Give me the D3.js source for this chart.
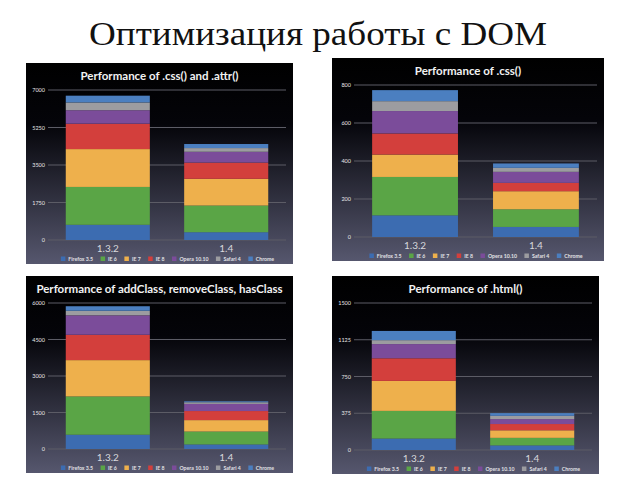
<!DOCTYPE html>
<html><head><meta charset="utf-8">
<script src="https://cdn.jsdelivr.net/npm/d3@7"></script>
<style>html,body{margin:0;padding:0;background:#fff;}svg{display:block;}</style>
</head><body>
<svg id="chart" width="640" height="480"></svg>
<script>
const versions = ["1.3.2", "1.4"];
const browsers = ["Firefox 3.5", "IE 6", "IE 7", "IE 8", "Opera 10.10", "Safari 4", "Chrome"];
const browserColors = ["#3c6cb1", "#5aa546", "#eeb04c", "#d33f3c", "#7b4c9a", "#9c9ca0", "#4b7fc0"];

const cssAttr132 = [710, 1766, 1767, 1183, 631, 363, 315];
const cssAttr14  = [363, 1246, 1246, 757, 505, 173, 189];
const css132 = [114, 202, 118, 111, 118, 52, 58];
const css14  = [53, 93, 95, 44, 58, 21, 23];
const classes132 = [587, 1573, 1493, 1040, 800, 187, 187];
const classes14  = [187, 533, 467, 373, 293, 67, 40];
const html132 = [117, 282, 306, 231, 145, 40, 94];
const html14  = [47, 77, 77, 64, 50, 34, 27];

const ticksCssAttr = [0, 1750, 3500, 5250, 7000];
const ticksCss = [0, 200, 400, 600, 800];
const ticksClasses = [0, 1500, 3000, 4500, 6000];
const ticksHtml = [0, 375, 750, 1125, 1500];

const pageTitle = "Оптимизация работы с DOM";
const chartTitles = ["Performance of .css() and .attr()", "Performance of .css()",
                     "Performance of addClass, removeClass, hasClass", "Performance of .html()"];

const svg = d3.select("#chart");
const defs = svg.append("defs");
const grad = defs.append("linearGradient").attr("id", "bg").attr("x1", 0).attr("y1", 0).attr("x2", 0).attr("y2", 1);
grad.append("stop").attr("offset", "0%").attr("stop-color", "#000000");
grad.append("stop").attr("offset", "30%").attr("stop-color", "#040409");
grad.append("stop").attr("offset", "100%").attr("stop-color", "#56576e");

svg.append("text").attr("x", 318).attr("y", 45).attr("text-anchor", "middle")
  .attr("font-family", "Liberation Serif, serif").attr("font-size", 34).attr("fill", "#111")
  .attr("textLength", 458).attr("lengthAdjust", "spacingAndGlyphs")
  .text(pageTitle);

const panels = [
  {box: [26, 63, 267, 201], title: chartTitles[0], ticks: ticksCssAttr, a: cssAttr132, b: cssAttr14},
  {box: [332, 58, 272, 203], title: chartTitles[1], ticks: ticksCss, a: css132, b: css14},
  {box: [26, 276, 267, 197], title: chartTitles[2], ticks: ticksClasses, a: classes132, b: classes14},
  {box: [332, 276, 267, 198], title: chartTitles[3], ticks: ticksHtml, a: html132, b: html14}
];

panels.forEach(p => {
  const [px, py, pw, ph] = p.box;
  const g = svg.append("g").attr("transform", `translate(${px},${py})`);
  g.append("rect").attr("width", pw).attr("height", ph).attr("fill", "url(#bg)");
  g.append("text").attr("x", pw / 2).attr("y", 17).attr("text-anchor", "middle")
    .attr("font-family", "Lato, sans-serif").attr("font-weight", 700).attr("font-size", 11.5)
    .attr("fill", "#f2f2f2").text(p.title);

  const y = d3.scaleLinear().domain([0, d3.max(p.ticks)]).range([ph - 24, 27]);
  const x = d3.scaleBand().domain(versions).range([22, pw - 7]).paddingInner(0.29).paddingOuter(0.15);

  g.selectAll("line.grid").data(p.ticks).join("line").attr("class", "grid")
    .attr("x1", 22).attr("x2", pw - 7).attr("y1", d => y(d)).attr("y2", d => y(d))
    .attr("stroke", "#5c5c66").attr("stroke-width", 1);
  g.selectAll("text.tick").data(p.ticks).join("text").attr("class", "tick")
    .attr("x", 19).attr("y", d => y(d) + 2).attr("text-anchor", "end")
    .attr("font-family", "Lato, sans-serif").attr("font-size", 5.5).attr("fill", "#e8e8e8")
    .text(d => d);

  const rows = [p.a, p.b].map((vals, i) => {
    const o = {version: versions[i]};
    browsers.forEach((bn, j) => o[bn] = vals[j]);
    return o;
  });
  const stack = d3.stack().keys(browsers)(rows);
  g.selectAll("g.series").data(stack).join("g").attr("class", "series")
    .attr("fill", (d, i) => browserColors[i])
    .selectAll("rect").data(d => d).join("rect")
    .attr("x", d => x(d.data.version)).attr("width", x.bandwidth())
    .attr("y", d => y(d[1])).attr("height", d => y(d[0]) - y(d[1]));

  g.selectAll("text.cat").data(versions).join("text").attr("class", "cat")
    .attr("x", d => x(d) + x.bandwidth() / 2).attr("y", ph - 12).attr("text-anchor", "middle")
    .attr("font-family", "Lato, sans-serif").attr("font-size", 10).attr("fill", "#d8d8dc")
    .text(d => d);

  const lg = g.append("g");
  let cx = 0;
  browsers.forEach((bn, i) => {
    lg.append("rect").attr("x", cx).attr("y", -2.5).attr("width", 4.5).attr("height", 4.5).attr("fill", browserColors[i]);
    const t = lg.append("text").attr("x", cx + 7.5).attr("y", 1.8)
      .attr("font-family", "Lato, sans-serif").attr("font-weight", 700).attr("font-size", 5.2).attr("fill", "#e0e0e4").text(bn);
    cx += 7.5 + t.node().getComputedTextLength() + 7.5;
  });
  cx -= 7.5;
  lg.attr("transform", `translate(${pw / 2 + 8 - cx / 2},${ph - 5})`);
});
</script>
</body></html>
